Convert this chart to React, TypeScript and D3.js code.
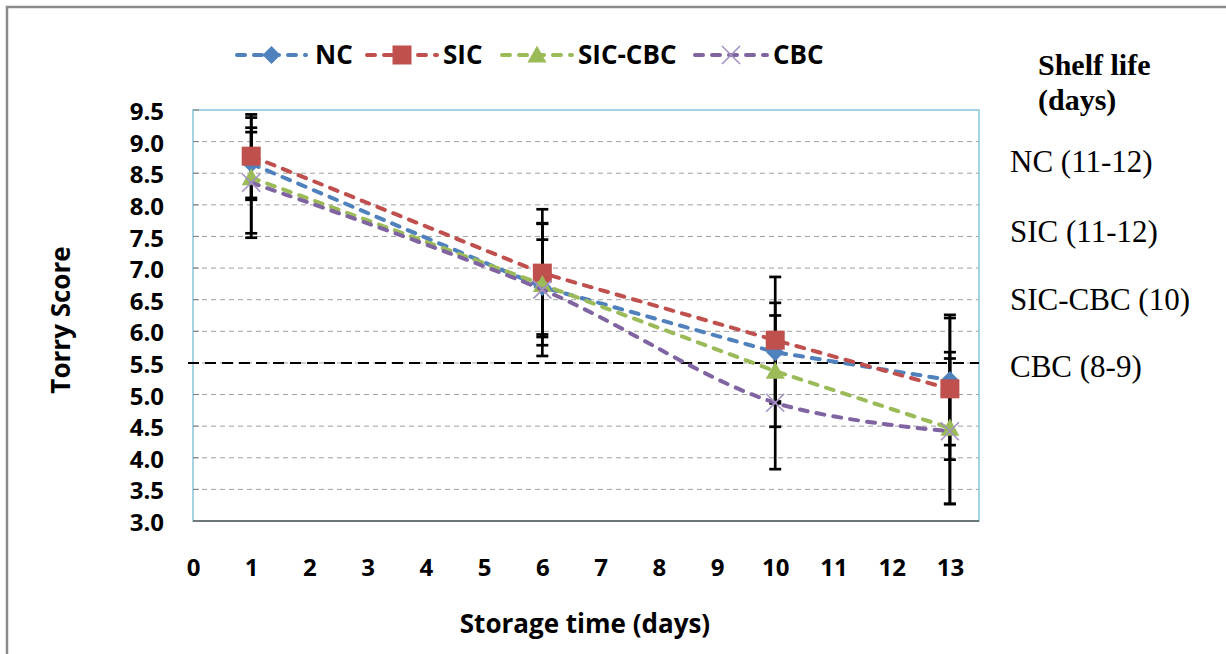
import * as d3 from "d3";
import { useRef, useEffect } from "react";

// storage days where the samples were scored
const days = [1, 6, 10, 13];

// Torry score means and standard deviations
const ncValues = [8.65, 6.7, 5.67, 5.23];
const ncErrors = [0.57, 0.75, 0.78, 1.03];
const sicValues = [8.77, 6.92, 5.86, 5.09];
const sicErrors = [0.66, 1.01, 1.0, 1.12];
const sicCbcValues = [8.43, 6.74, 5.37, 4.47];
const sicCbcErrors = [0.95, 0.96, 0.88, 1.2];
const cbcValues = [8.35, 6.66, 4.87, 4.42];
const cbcErrors = [0.8, 1.05, 1.05, 1.15];

const xTicks = [0, 1, 2, 3, 4, 5, 6, 7, 8, 9, 10, 11, 12, 13];
const yTicks = [3.0, 3.5, 4.0, 4.5, 5.0, 5.5, 6.0, 6.5, 7.0, 7.5, 8.0, 8.5, 9.0, 9.5];
const limitScore = 5.5;

const shelfTitle = ["Shelf life", "(days)"];
const shelfLife = ["NC (11-12)", "SIC (11-12)", "SIC-CBC (10)", "CBC (8-9)"];

const series = [
  { name: "NC", values: ncValues, errors: ncErrors, color: "#4F81BD", marker: "diamond", smooth: false },
  { name: "SIC", values: sicValues, errors: sicErrors, color: "#C0504D", marker: "square", smooth: false },
  { name: "SIC-CBC", values: sicCbcValues, errors: sicCbcErrors, color: "#9BBB59", marker: "triangle", smooth: false },
  { name: "CBC", values: cbcValues, errors: cbcErrors, color: "#8064A2", marker: "cross", smooth: true }
];

const FONT = "'Open Sans', sans-serif";

function Marker({ type, cx, cy, color }) {
  if (type === "diamond") {
    const r = 9;
    return <path d={`M${cx},${cy - r}L${cx + r},${cy}L${cx},${cy + r}L${cx - r},${cy}Z`} fill={color} />;
  }
  if (type === "square") {
    const r = 9.5;
    return <rect x={cx - r} y={cy - r} width={r * 2} height={r * 2} fill={color} />;
  }
  if (type === "triangle") {
    const r = 9.5;
    return <path d={`M${cx},${cy - r}L${cx + r},${cy + r * 0.8}L${cx - r},${cy + r * 0.8}Z`} fill={color} />;
  }
  const r = 9;
  return (
    <path
      d={`M${cx - r},${cy - r}L${cx + r},${cy + r}M${cx - r},${cy + r}L${cx + r},${cy - r}`}
      stroke="#A391C4"
      strokeWidth={1.6}
      fill="none"
    />
  );
}

export default function App() {
  const width = 1226;
  const height = 654;
  const marginLeft = 193;
  const marginTop = 110;
  const plotRight = 979;
  const plotBottom = 521;

  const gx = useRef(null);
  const gy = useRef(null);

  const x = d3.scaleLinear().domain([0, 13.5]).range([marginLeft, plotRight]);
  const y = d3.scaleLinear().domain([3, 9.5]).range([plotBottom, marginTop]);

  useEffect(() => {
    const ax = d3.select(gx.current);
    ax.call(d3.axisBottom(x).tickValues(xTicks).tickFormat(d3.format("d")).tickSize(0).tickPadding(38));
    ax.select(".domain").remove();
    ax.attr("font-family", FONT).attr("font-size", 24);
    ax.selectAll("text").attr("font-weight", 700).attr("fill", "#000");

    const ay = d3.select(gy.current);
    ay.call(d3.axisLeft(y).tickValues(yTicks).tickFormat(d3.format(".1f")).tickSize(0).tickPadding(29));
    ay.select(".domain").remove();
    ay.attr("font-family", FONT).attr("font-size", 24);
    ay.selectAll("text").attr("font-weight", 700).attr("fill", "#000").attr("dy", "0.4em");
  }, [gx, gy, x, y]);

  const line = d3.line().x(d => x(d[0])).y(d => y(d[1]));
  const smoothLine = d3.line().x(d => x(d[0])).y(d => y(d[1])).curve(d3.curveCatmullRom);

  const legendItems = [
    { lineFrom: 237, lineTo: 306, text: 315 },
    { lineFrom: 367, lineTo: 437, text: 443 },
    { lineFrom: 502, lineTo: 572, text: 578 },
    { lineFrom: 695, lineTo: 767, text: 773 }
  ];
  const legendY = 55;

  return (
    <svg width={width} height={height} style={{ position: "absolute", left: 0, top: 0, background: "#fff" }}>
      {/* outer frame */}
      <rect x={7} y={7} width={1260} height={700} fill="none" stroke="#8A8A8A" strokeWidth={2.5} />

      {/* grid lines */}
      <g stroke="#A0A0A0" strokeWidth={1} strokeDasharray="5,4">
        {yTicks.filter(t => t > 3 && t < 9.5).map(t => (
          <line key={t} x1={marginLeft} x2={plotRight} y1={y(t)} y2={y(t)} />
        ))}
      </g>

      {/* plot area border */}
      <rect x={marginLeft} y={marginTop} width={plotRight - marginLeft} height={plotBottom - marginTop}
        fill="none" stroke="#86C5DA" strokeWidth={1.5} />
      <line x1={marginLeft} x2={plotRight} y1={plotBottom} y2={plotBottom} stroke="#595959" strokeWidth={1.5} />
      <g stroke="#7F7F7F" strokeWidth={1}>
        {yTicks.map(t => (
          <line key={t} x1={marginLeft} x2={marginLeft + 6} y1={y(t)} y2={y(t)} />
        ))}
      </g>

      {/* axes labels */}
      <g ref={gx} transform={`translate(0,${plotBottom})`} />
      <g ref={gy} transform={`translate(${marginLeft},0)`} />

      {/* acceptability limit */}
      <line x1={188} x2={plotRight} y1={y(limitScore)} y2={y(limitScore)}
        stroke="#000" strokeWidth={2} strokeDasharray="11,6" />

      {/* error bars */}
      <g stroke="#000" strokeWidth={2.7}>
        {series.map(s => days.map((d, i) => {
          const top = y(s.values[i] + s.errors[i]);
          const bot = y(s.values[i] - s.errors[i]);
          const cx = x(d);
          return (
            <g key={s.name + d}>
              <line x1={cx} x2={cx} y1={top} y2={bot} />
              <line x1={cx - 6} x2={cx + 6} y1={top} y2={top} />
              <line x1={cx - 6} x2={cx + 6} y1={bot} y2={bot} />
            </g>
          );
        }))}
      </g>

      {/* series */}
      {series.map(s => {
        const pts = days.map((d, i) => [d, s.values[i]]);
        return (
          <g key={s.name}>
            <path d={(s.smooth ? smoothLine : line)(pts)} fill="none" stroke={s.color} strokeWidth={4}
              strokeDasharray="8,9" strokeLinecap="round" />
            {pts.map(p => (
              <Marker key={p[0]} type={s.marker} cx={x(p[0])} cy={y(p[1])} color={s.color} />
            ))}
          </g>
        );
      })}

      {/* legend */}
      {series.map((s, i) => {
        const it = legendItems[i];
        return (
          <g key={s.name}>
            <line x1={it.lineFrom} x2={it.lineTo} y1={legendY} y2={legendY} stroke={s.color} strokeWidth={4}
              strokeDasharray="8,9" strokeLinecap="round" />
            <Marker type={s.marker} cx={(it.lineFrom + it.lineTo) / 2} cy={legendY} color={s.color} />
            <text x={it.text} y={legendY + 9} fontFamily={FONT} fontWeight={700} fontSize={26} fill="#000">{s.name}</text>
          </g>
        );
      })}

      {/* axis titles */}
      <text transform={`translate(70,${320}) rotate(-90)`} textAnchor="middle" fontFamily={FONT}
        fontWeight={700} fontSize={26} fill="#000">Torry Score</text>
      <text x={585} y={633} textAnchor="middle" fontFamily={FONT} fontWeight={700} fontSize={26} fill="#000">
        Storage time (days)
      </text>

      {/* shelf life notes */}
      <g fontFamily="'Liberation Serif', 'Times New Roman', serif" fill="#000">
        <text x={1038} y={75} fontSize={30} fontWeight={700}>{shelfTitle[0]}</text>
        <text x={1038} y={110} fontSize={30} fontWeight={700}>{shelfTitle[1]}</text>
        {shelfLife.map((t, i) => (
          <text key={t} x={1010} y={[172, 242, 310, 377][i]} fontSize={31}>{t}</text>
        ))}
      </g>
    </svg>
  );
}
